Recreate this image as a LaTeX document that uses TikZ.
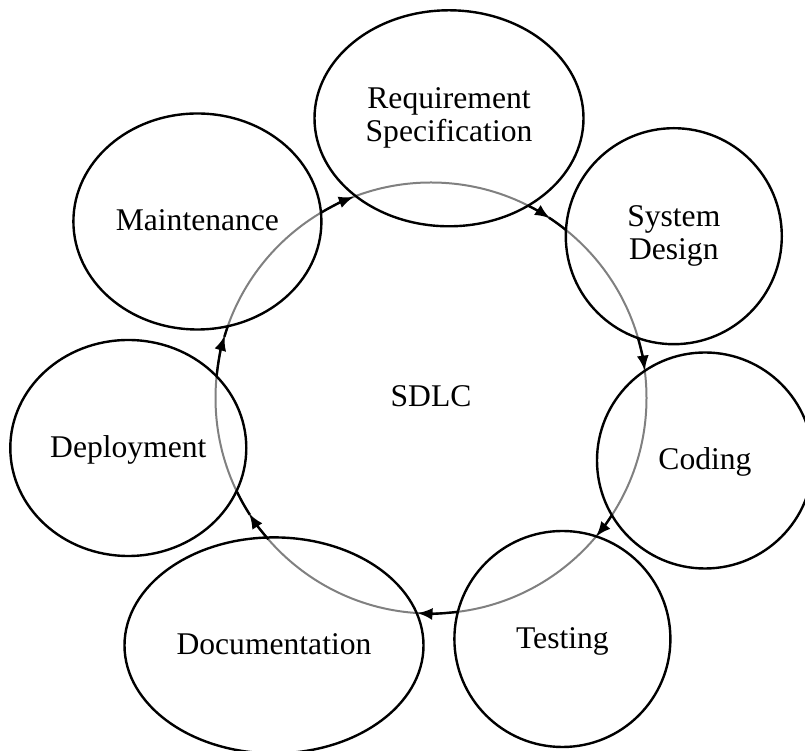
\documentclass[tikz,border=0pt]{standalone}
\usepackage{fontspec}
\setmainfont{Liberation Serif}
\usetikzlibrary{shapes.geometric,arrows.meta}

\newcommand{\phasefont}{\fontsize{31.6}{32.2}\selectfont}
\newcommand{\ringR}{215.5pt}
% fixed line struts so every label sits at the same height in its ellipse
\newcommand{\headstrut}{\rule{0pt}{26.5pt}}
\newcommand{\footstrut}{\rule[-7.5pt]{0pt}{7.5pt}}

\tikzset{
  phase/.style={ellipse, draw, line width=2.4pt, inner sep=0pt,
    align=center, font=\phasefont, minimum height=216pt,
    execute at begin node=\headstrut, execute at end node=\footstrut},
  ring/.style={draw=black!50, line width=2pt},
  flow/.style={line width=2.4pt, -{Latex[length=15pt,width=12pt]}},
  flowtail/.style={line width=2.4pt},
}

\begin{document}
\begin{tikzpicture}[x=1pt,y=1pt]
  \useasboundingbox (0,0) rectangle (805,751);

  % centre of the cycle and the grey ring
  \coordinate (C) at (431,353);
  \draw[ring] (C) circle[radius=\ringR];
  \node[font=\phasefont] (sdlc) at (431,354.5) {SDLC};

  % the seven phases
  \node[phase, minimum width=269pt] (req)    at (449,632.7) {Requirement\\Specification};
  \node[phase, minimum width=216pt] (design) at (673.8,514.8){System\\Design};
  \node[phase, minimum width=216pt] (coding) at (705,290.5)  {Coding};
  \node[phase, minimum width=216pt] (test)   at (562.4,112)  {Testing};
  \node[phase, minimum width=299pt] (doc)    at (274,105.6)  {Documentation};
  \node[phase, minimum width=236pt] (deploy) at (128.3,303)  {Deployment};
  \node[phase, minimum width=248pt] (maint)  at (197.4,529.5){Maintenance};

  % flow arcs along the ring, clockwise from phase to phase
  % maintenance -> requirement
  \draw[flow] ([shift={(120.7:\ringR)}]C) arc[start angle=120.7, end angle=111.0, radius=\ringR];
  % requirement -> design
  \draw[flow] ([shift={(63.2:\ringR)}]C) arc[start angle=63.2, end angle=56.5, radius=\ringR];
  \draw[flowtail] ([shift={(56.8:\ringR)}]C) arc[start angle=56.8, end angle=51.3, radius=\ringR];
  % design -> coding
  \draw[flow] ([shift={(16.2:\ringR)}]C) arc[start angle=16.2, end angle=7.3, radius=\ringR];
  % coding -> testing
  \draw[flow] ([shift={(-33:\ringR)}]C) arc[start angle=-33, end angle=-40, radius=\ringR];
  % testing -> documentation
  \draw[flow] ([shift={(-82.8:\ringR)}]C) arc[start angle=-82.8, end angle=-93.6, radius=\ringR];
  % documentation -> deployment
  \draw[flow] ([shift={(221:\ringR)}]C) arc[start angle=221, end angle=212.5, radius=\ringR];
  \draw[flowtail] ([shift={(212.8:\ringR)}]C) arc[start angle=212.8, end angle=205.8, radius=\ringR];
  % deployment -> maintenance
  \draw[flow] ([shift={(174.2:\ringR)}]C) arc[start angle=174.2, end angle=163.2, radius=\ringR];
  \draw[flowtail] ([shift={(163.5:\ringR)}]C) arc[start angle=163.5, end angle=160.5, radius=\ringR];
\end{tikzpicture}
\end{document}
